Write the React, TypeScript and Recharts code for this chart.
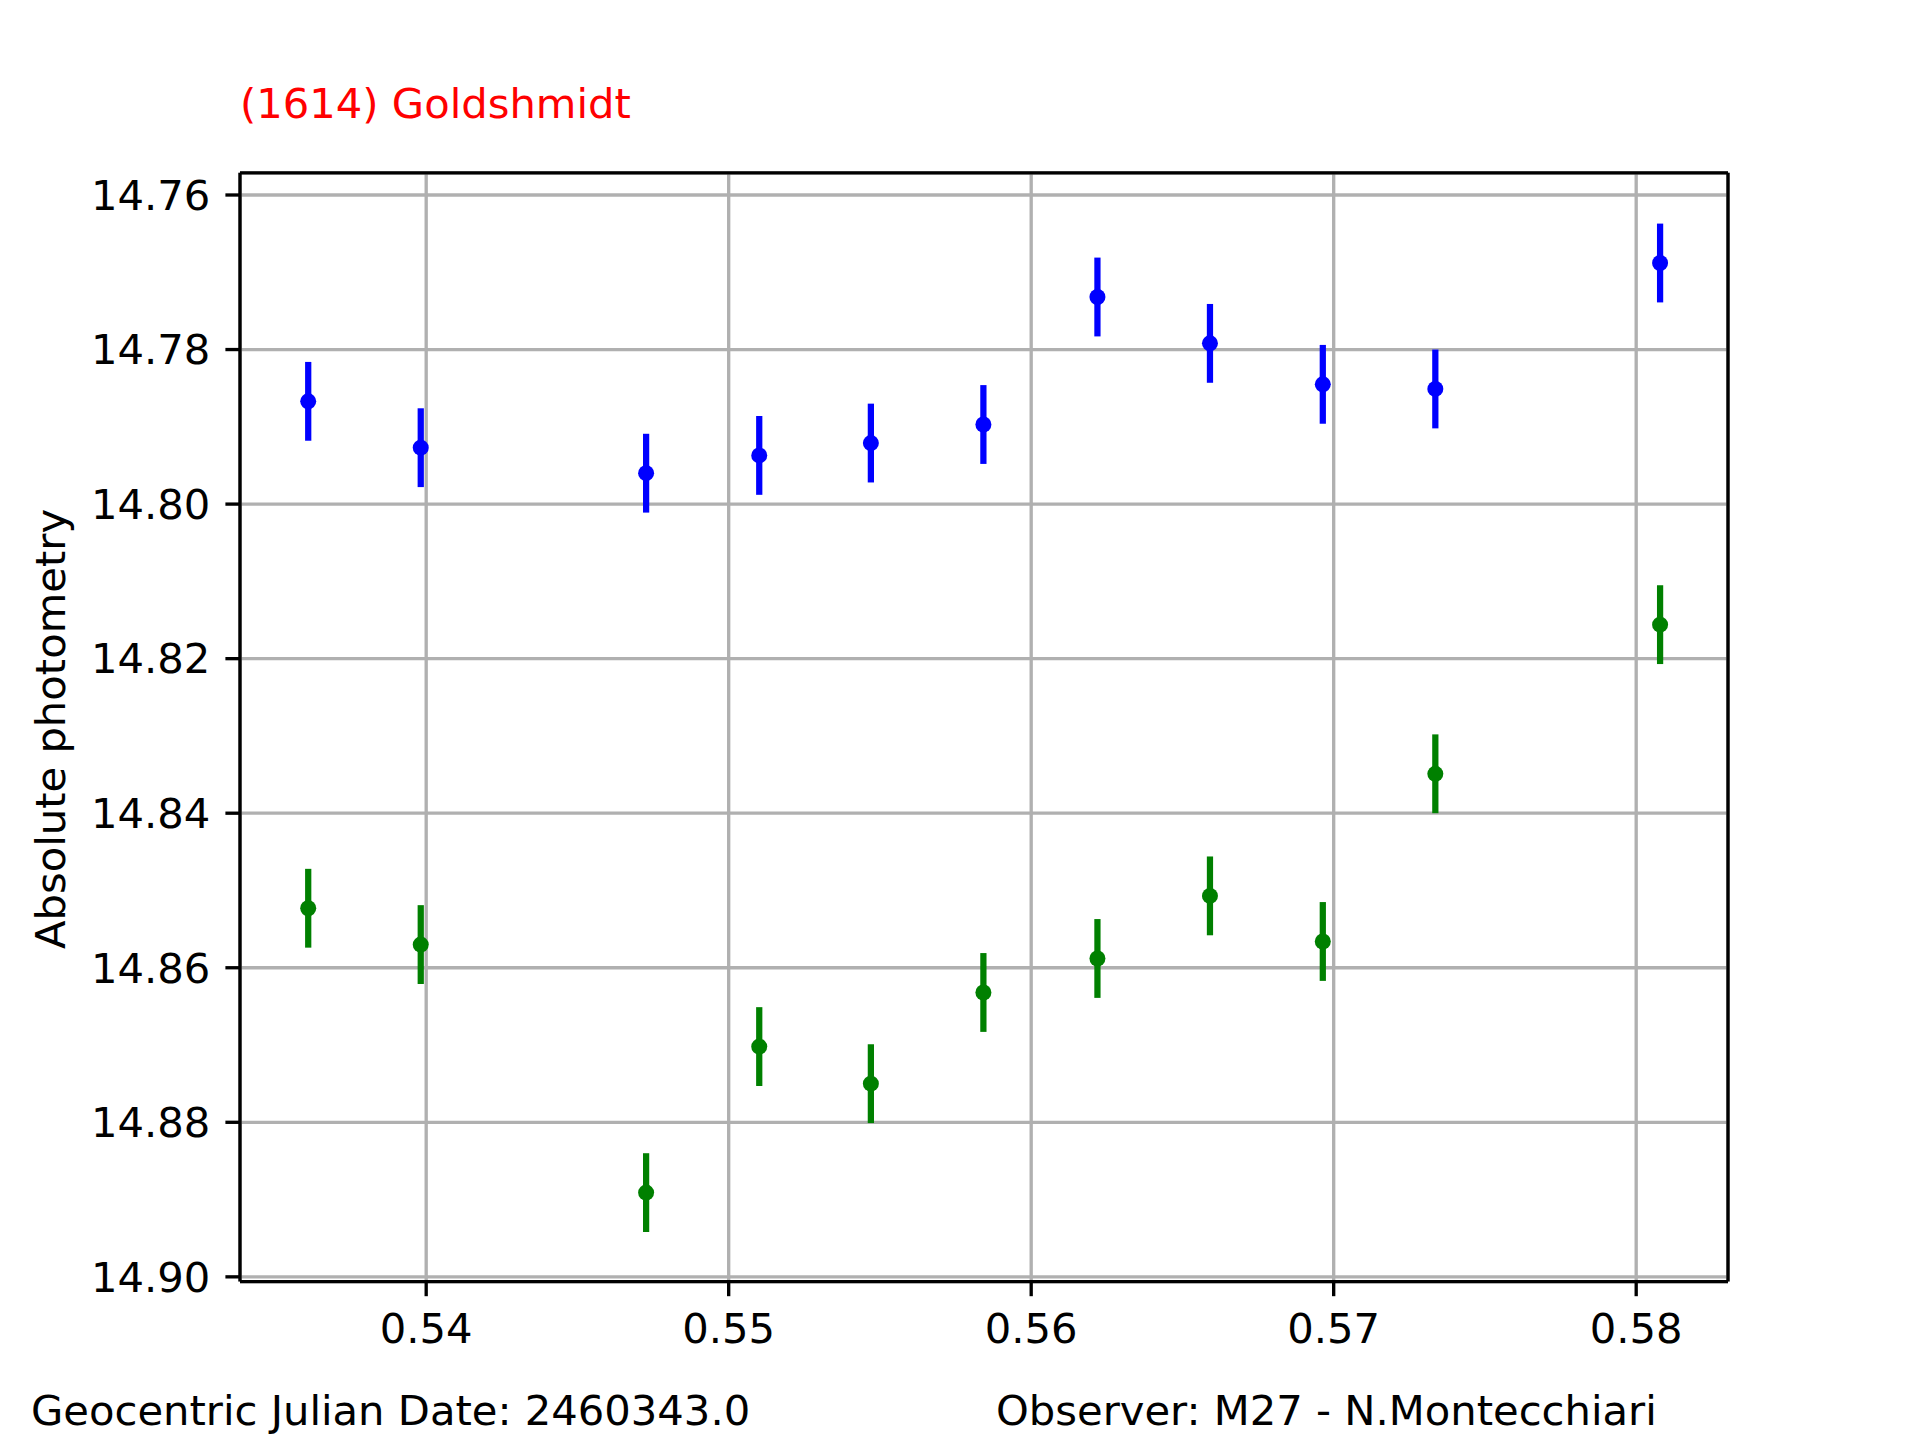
import React from 'react';
import { ScatterChart, Scatter, XAxis, YAxis, CartesianGrid, ErrorBar, ReferenceLine } from 'recharts';

// Geocentric JD fraction (offset from 2460343.0)
const jd = [0.5361, 0.53982, 0.54727, 0.55101, 0.5547, 0.55842, 0.56219, 0.56591, 0.56964, 0.57336, 0.58079];
const blueMag = [14.7867, 14.7927, 14.796, 14.7937, 14.7921, 14.7897, 14.7732, 14.7792, 14.7845, 14.7851, 14.7688];
const blueErr = [0.0051, 0.0051, 0.0051, 0.0051, 0.0051, 0.0051, 0.0051, 0.0051, 0.0051, 0.0051, 0.0051];
const greenMag = [14.8523, 14.857, 14.8891, 14.8702, 14.875, 14.8632, 14.8588, 14.8507, 14.8566, 14.8349, 14.8156];
const greenErr = [0.0051, 0.0051, 0.0051, 0.0051, 0.0051, 0.0051, 0.0051, 0.0051, 0.0051, 0.0051, 0.0051];

const xTicks = [0.54, 0.55, 0.56, 0.57, 0.58];
const yTicks = [14.76, 14.78, 14.8, 14.82, 14.84, 14.86, 14.88, 14.9];

const blueData = jd.map((x, i) => ({ x, y: blueMag[i], err: blueErr[i] }));
const greenData = jd.map((x, i) => ({ x, y: greenMag[i], err: greenErr[i] }));

const FONT = '"DejaVu Sans", sans-serif';
const LW = 3.33; // 0.8pt at 300 dpi
const xDomain: [number, number] = [0.533845, 0.583035];
const yDomain: [number, number] = [14.757127, 14.900615];

const frame = { stroke: '#000', strokeWidth: LW };
const tickFont = { fill: '#000', fontSize: 41.7, fontFamily: FONT };

const dot = (color: string) => (p: any) => <circle cx={p.cx} cy={p.cy} r={8} fill={color} />;

const App: React.FC = () => {
  return (
    <div style={{ position: 'absolute', left: 0, top: 0, width: 1920, height: 1440, background: '#fff', fontFamily: FONT }}>
      <ScatterChart width={1920} height={1440} margin={{ top: 172.8, right: 192, bottom: 98.4, left: 0 }}>
        <CartesianGrid stroke="#b0b0b0" strokeWidth={LW} />
        <XAxis
          dataKey="x"
          type="number"
          domain={xDomain}
          allowDataOverflow
          ticks={xTicks}
          interval={0}
          tickFormatter={(v: number) => v.toFixed(2)}
          height={60}
          tickSize={14.6}
          tickMargin={17}
          axisLine={frame}
          tickLine={frame}
          tick={tickFont}
        />
        <YAxis
          dataKey="y"
          type="number"
          reversed
          domain={yDomain}
          allowDataOverflow
          ticks={yTicks}
          interval={0}
          tickFormatter={(v: number) => v.toFixed(2)}
          width={240}
          tickSize={14.6}
          tickMargin={15}
          axisLine={frame}
          tickLine={frame}
          tick={tickFont}
        />
        {/* top and right spines */}
        <ReferenceLine y={yDomain[0]} stroke="#000" strokeWidth={LW} ifOverflow="visible" />
        <ReferenceLine x={xDomain[1]} stroke="#000" strokeWidth={LW} ifOverflow="visible" />
        <Scatter data={blueData} fill="#0000ff" isAnimationActive={false} shape={dot('#0000ff')}>
          <ErrorBar dataKey="err" direction="y" width={0} stroke="#0000ff" strokeWidth={6.25} isAnimationActive={false} />
        </Scatter>
        <Scatter data={greenData} fill="#008000" isAnimationActive={false} shape={dot('#008000')}>
          <ErrorBar dataKey="err" direction="y" width={0} stroke="#008000" strokeWidth={6.25} isAnimationActive={false} />
        </Scatter>
      </ScatterChart>
      <svg width={1920} height={1440} style={{ position: 'absolute', left: 0, top: 0, pointerEvents: 'none' }}>
        <text x={240} y={118} fill="#ff0000" fontSize={41.7} fontFamily={FONT}>(1614) Goldshmidt</text>
        <text x={65} y={729} fill="#000" fontSize={41.7} fontFamily={FONT} textAnchor="middle" transform="rotate(-90, 65, 729)">
          Absolute photometry
        </text>
        <text x={31} y={1425} fill="#000" fontSize={41.7} fontFamily={FONT}>Geocentric Julian Date: 2460343.0</text>
        <text x={996} y={1425} fill="#000" fontSize={41.7} fontFamily={FONT}>Observer: M27 - N.Montecchiari</text>
      </svg>
    </div>
  );
};

export default App;
